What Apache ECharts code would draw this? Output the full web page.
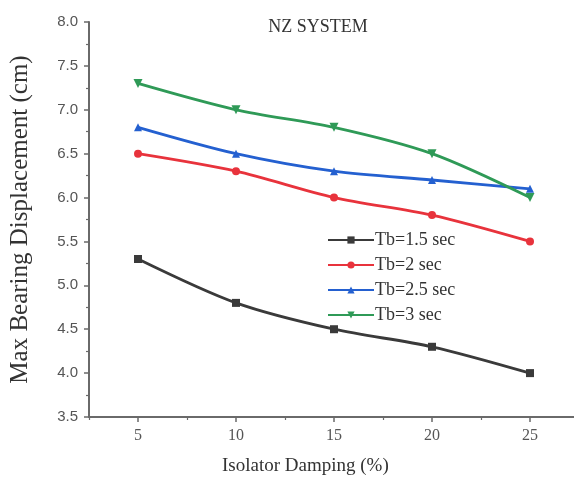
<!DOCTYPE html>
<html><head><meta charset="utf-8">
<script src="https://cdn.jsdelivr.net/npm/echarts@6/dist/echarts.min.js"></script>
<style>html,body{margin:0;padding:0;background:#fff}#c{width:574px;height:481px}</style>
</head><body><div id="c"></div>
<script>
const damping = [5, 10, 15, 20, 25];
const xTicks = [5, 10, 15, 20, 25];
const seriesNames = ['Tb=1.5 sec', 'Tb=2 sec', 'Tb=2.5 sec', 'Tb=3 sec'];
const tb15 = [5.3, 4.8, 4.5, 4.3, 4.0];
const tb2 = [6.5, 6.3, 6.0, 5.8, 5.5];
const tb25 = [6.8, 6.5, 6.3, 6.2, 6.1];
const tb3 = [7.3, 7.0, 6.8, 6.5, 6.0];

const colors = ['#3a3a3a', '#e8333c', '#2460d0', '#2f9a57'];
const symbols = ['rect', 'circle', 'triangle', 'path://M0,0 L10,0 L5,9 Z'];
const values = [tb15, tb2, tb25, tb3];

const chart = echarts.init(document.getElementById('c'));
const serif = '"Liberation Serif", "DejaVu Serif", serif';
const axisColor = '#6a6a6a';
chart.setOption({
  animation: false,
  title: {
    text: 'NZ SYSTEM', left: 313, top: 13, textAlign: 'center',
    textStyle: {fontFamily: serif, fontSize: 18, fontWeight: 'normal', color: '#333'}
  },
  legend: {
    orient: 'vertical', left: 322, top: 226, itemWidth: 46, itemHeight: 9, itemGap: 7,
    textStyle: {fontFamily: serif, fontSize: 18, color: '#333', padding: [0,0,0,-4]},
    data: seriesNames
  },
  grid: {left: 89, top: 22, right: -5, bottom: 64, outerBoundsMode: 'none', containLabel: false},
  xAxis: [{
    type: 'value', min: 2.5, max: 27.5,
    axisLine: {show: true, onZero: false, lineStyle: {color: axisColor, width: 2}},
    axisTick: {show: true, customValues: xTicks, length: 5, inside: false, lineStyle: {color: axisColor, width: 1.5}},
    axisLabel: {customValues: xTicks, margin: 11, fontFamily: serif, fontSize: 16, color: '#555'},
    splitLine: {show: false}
  }, {
    type: 'value', min: 2.5, max: 27.5, interval: 5, position: 'bottom',
    axisLine: {show: false},
    axisTick: {show: true, length: 3, lineStyle: {color: axisColor, width: 1.2}},
    axisLabel: {show: false}, splitLine: {show: false}
  }],
  yAxis: {
    type: 'value', min: 3.5, max: 8.0, interval: 0.5,
    name: 'Max Bearing Displacement (cm)', nameLocation: 'middle', nameGap: 56,
    nameTextStyle: {fontFamily: serif, fontSize: 25, color: '#333'},
    axisLine: {show: true, onZero: false, lineStyle: {color: axisColor, width: 2}},
    axisTick: {show: true, length: 5, lineStyle: {color: axisColor, width: 1.5}},
    minorTick: {show: true, splitNumber: 2, length: 3, lineStyle: {color: axisColor, width: 1.2}},
    axisLabel: {margin: 11, fontFamily: '"Liberation Sans", Arial, sans-serif', fontSize: 15, color: '#555',
      formatter: v => v.toFixed(1)},
    splitLine: {show: false}
  },
  graphic: [{
    type: 'text', left: 222, top: 457,
    style: {text: 'Isolator Damping (%)', font: '19px "Liberation Serif", serif', fill: '#333'}
  }],
  series: values.map((vals, i) => ({
    name: seriesNames[i], type: 'line', smooth: 0.3,
    data: damping.map((d, j) => [d, vals[j]]),
    symbol: symbols[i], symbolSize: i === 3 ? 9 : 8,
    itemStyle: {color: colors[i]},
    lineStyle: {color: colors[i], width: 2.8},
    z: 2 + i
  }))
});
</script></body></html>
